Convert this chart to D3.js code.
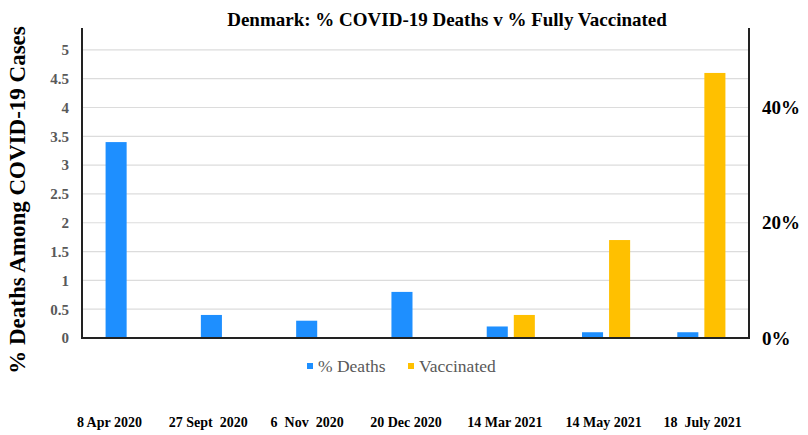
<!DOCTYPE html>
<html>
<head>
<meta charset="utf-8">
<script src="https://cdn.jsdelivr.net/npm/d3@7"></script>
<style>
body { margin: 0; background: #fff; }
svg { display: block; font-family: "Liberation Serif", "Times New Roman", serif; }
</style>
</head>
<body>
<svg id="chart" width="808" height="435"></svg>
<script>
// chart data
var dates = ["8 Apr 2020", "27 Sept  2020", "6  Nov  2020", "20 Dec 2020",
             "14 Mar 2021", "14 May 2021", "18  July 2021"];
var series = ["% Deaths", "Vaccinated"];
var deaths = [3.4, 0.4, 0.3, 0.8, 0.2, 0.1, 0.1];
var vaccinated = [0, 0, 0, 0, 4, 17, 46];
var leftTicks = [0, 0.5, 1, 1.5, 2, 2.5, 3, 3.5, 4, 4.5, 5];
var rightTicks = [0, 20, 40];

var colors = { "% Deaths": "#1e8fff", "Vaccinated": "#ffc000" };

var svg = d3.select("#chart");
var plotLeft = 82, plotRight = 749, plotTop = 28, plotBottom = 338;

var x0 = d3.scaleBand()
    .domain(dates)
    .range([plotLeft, plotRight])
    .paddingInner(0.495)
    .paddingOuter(0.2475);

var x1 = d3.scaleBand()
    .domain(series)
    .range([0, x0.bandwidth()])
    .paddingInner(0.222);

// the date labels sit on their own slightly wider row
var xLabel = d3.scaleBand()
    .domain(dates)
    .range([60, 752]);

var y = d3.scaleLinear().domain([0, 5.38]).range([plotBottom, plotTop]);
var y2 = d3.scaleLinear().domain([0, 53.8]).range([plotBottom, plotTop]);

// grid
svg.append("g")
    .selectAll("line")
    .data(leftTicks.slice(1))
    .join("line")
    .attr("x1", plotLeft).attr("x2", plotRight)
    .attr("y1", function(d){ return y(d); })
    .attr("y2", function(d){ return y(d); })
    .attr("stroke", "#dcdcdc")
    .attr("stroke-width", 1.2);

// bars
var rows = dates.map(function(d, i){
    return { date: d, values: [
        { key: "% Deaths", v: deaths[i], s: y },
        { key: "Vaccinated", v: vaccinated[i], s: y2 }
    ]};
});

svg.append("g")
    .selectAll("g")
    .data(rows)
    .join("g")
    .attr("transform", function(d){ return "translate(" + x0(d.date) + ",0)"; })
    .selectAll("rect")
    .data(function(d){ return d.values.filter(function(e){ return e.v > 0; }); })
    .join("rect")
    .attr("x", function(d){ return x1(d.key); })
    .attr("width", x1.bandwidth())
    .attr("y", function(d){ return d.s(d.v); })
    .attr("height", function(d){ return plotBottom - d.s(d.v); })
    .attr("fill", function(d){ return colors[d.key]; });

// left axis
var yAxis = svg.append("g")
    .attr("transform", "translate(" + plotLeft + ",0)")
    .call(d3.axisLeft(y).tickValues(leftTicks).tickSize(0).tickPadding(13)
          .tickFormat(function(d){ return String(d); }));
yAxis.select(".domain").remove();
yAxis.selectAll("text")
    .attr("fill", "#595959")
    .attr("font-family", "Liberation Serif, serif")
    .attr("font-weight", "bold")
    .attr("font-size", 15);

// right axis
var y2Axis = svg.append("g")
    .attr("transform", "translate(" + plotRight + ",0)")
    .call(d3.axisRight(y2).tickValues(rightTicks).tickSize(0).tickPadding(13)
          .tickFormat(function(d){ return d + "%"; }));
y2Axis.select(".domain").remove();
y2Axis.selectAll("text")
    .attr("fill", "#000")
    .attr("font-family", "Liberation Serif, serif")
    .attr("font-weight", "bold")
    .attr("font-size", 19);

// frame lines
svg.append("path")
    .attr("d", "M" + plotLeft + "," + plotTop + "V" + plotBottom + "H" + plotRight + "V" + plotTop)
    .attr("fill", "none")
    .attr("stroke", "#222")
    .attr("stroke-width", 2);

// date labels
svg.append("g")
    .selectAll("text")
    .data(dates)
    .join("text")
    .attr("x", function(d){ return xLabel(d) + xLabel.bandwidth() / 2; })
    .attr("y", 427)
    .attr("text-anchor", "middle")
    .attr("font-weight", "bold")
    .attr("font-size", 14)
    .style("white-space", "pre")
    .text(function(d){ return d; });

// title
svg.append("text")
    .attr("x", 447).attr("y", 26)
    .attr("text-anchor", "middle")
    .attr("font-weight", "bold")
    .attr("font-size", 19)
    .text("Denmark: % COVID-19 Deaths v % Fully Vaccinated");

// y title
svg.append("text")
    .attr("transform", "translate(25,200) rotate(-90)")
    .attr("text-anchor", "middle")
    .attr("font-weight", "bold")
    .attr("font-size", 23)
    .text("% Deaths Among COVID-19 Cases");

// legend
var legendX = { "% Deaths": 307, "Vaccinated": 408 };
var legend = svg.append("g")
    .selectAll("g")
    .data(series)
    .join("g")
    .attr("transform", function(d){ return "translate(" + legendX[d] + ",366)"; });
legend.append("rect")
    .attr("x", 0).attr("y", -3)
    .attr("width", 6).attr("height", 6)
    .attr("fill", function(d){ return colors[d]; });
legend.append("text")
    .attr("x", 11).attr("y", 6)
    .attr("fill", "#595959")
    .attr("font-size", 17.5)
    .text(function(d){ return d; });
</script>
</body>
</html>
